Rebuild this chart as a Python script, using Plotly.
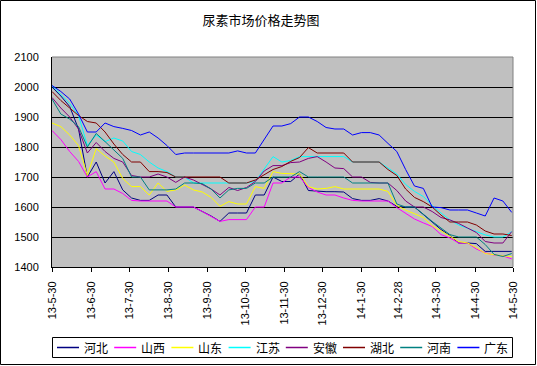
import pandas as pd
import plotly.graph_objects as go

dates = list(pd.date_range("2013-05-30", periods=53, freq="7D"))

names = ["河北", "山西", "山东", "江苏", "安徽", "湖北", "河南", "广东"]
colors = ["#000080", "#FF00FF", "#FFFF00", "#00FFFF", "#800080", "#800000", "#008080", "#0000FF"]

hebei = [2000, 1970, 1935, 1860, 1700, 1750, 1680, 1718, 1657, 1630,
         1622, 1622, 1640, 1640, 1600, 1600, 1600, 1585, 1570, 1552,
         1580, 1580, 1580, 1640, 1640, 1700, 1685, 1685, 1710, 1655,
         1652, 1651, 1651, 1650, 1628, 1622, 1622, 1628, 1620, 1602,
         1600, 1600, 1575, 1550, 1525, 1505, 1480, 1480, 1478, 1452,
         1452, 1452, 1452]
shanxi = [1855, 1825, 1785, 1752, 1700, 1718, 1660, 1660, 1645, 1622,
          1620, 1620, 1620, 1620, 1600, 1600, 1600, 1585, 1568, 1552,
          1558, 1558, 1558, 1600, 1600, 1680, 1680, 1700, 1700, 1665,
          1650, 1640, 1640, 1630, 1622, 1620, 1620, 1620, 1620, 1598,
          1580, 1560, 1547, 1535, 1508, 1497, 1480, 1480, 1460, 1447,
          1440, 1437, 1427]
shandong = [1880, 1868, 1840, 1805, 1705, 1795, 1770, 1750, 1695, 1668,
            1668, 1640, 1680, 1652, 1657, 1673, 1657, 1650, 1632, 1602,
            1618, 1610, 1610, 1668, 1662, 1718, 1712, 1710, 1710, 1668,
            1660, 1662, 1668, 1660, 1660, 1660, 1660, 1660, 1652, 1605,
            1590, 1578, 1565, 1538, 1520, 1502, 1485, 1480, 1465, 1445,
            1440, 1437, 1435]
jiangsu = [2005, 1975, 1945, 1905, 1805, 1840, 1818, 1830, 1820, 1785,
           1775, 1750, 1730, 1718, 1700, 1700, 1680, 1680, 1680, 1680,
           1680, 1680, 1680, 1685, 1725, 1768, 1750, 1755, 1768, 1768,
           1768, 1768, 1768, 1768, 1750, 1750, 1750, 1750, 1730, 1710,
           1675, 1652, 1635, 1605, 1580, 1557, 1540, 1530, 1518, 1507,
           1500, 1500, 1518]
anhui = [1965, 1930, 1900, 1860, 1780, 1815, 1785, 1762, 1750, 1705,
         1700, 1700, 1710, 1700, 1682, 1700, 1690, 1675, 1660, 1640,
         1665, 1655, 1665, 1685, 1720, 1738, 1738, 1748, 1750, 1762,
         1768, 1750, 1730, 1728, 1700, 1700, 1682, 1680, 1680, 1655,
         1620, 1600, 1600, 1585, 1565, 1557, 1545, 1530, 1515, 1485,
         1480, 1480, 1518]
hubei = [1985, 1955, 1930, 1905, 1885, 1880, 1850, 1810, 1775, 1750,
         1750, 1718, 1718, 1715, 1700, 1700, 1700, 1700, 1700, 1700,
         1680, 1680, 1680, 1690, 1708, 1725, 1735, 1752, 1765, 1798,
         1780, 1780, 1780, 1780, 1750, 1750, 1750, 1750, 1725, 1705,
         1660, 1632, 1618, 1600, 1573, 1550, 1550, 1550, 1540, 1520,
         1510, 1510, 1505]
henan = [1960, 1910, 1893, 1868, 1800, 1845, 1818, 1790, 1762, 1700,
         1700, 1657, 1657, 1657, 1660, 1680, 1680, 1678, 1660, 1630,
         1657, 1662, 1662, 1680, 1680, 1700, 1700, 1700, 1718, 1700,
         1700, 1700, 1700, 1700, 1680, 1680, 1680, 1680, 1680, 1610,
         1600, 1600, 1575, 1552, 1530, 1508, 1500, 1500, 1500, 1475,
         1442, 1435, 1445]
guangdong = [2005, 1985, 1960, 1910, 1850, 1850, 1880, 1868, 1862, 1855,
             1840, 1850, 1830, 1805, 1775, 1780, 1780, 1780, 1780, 1780,
             1780, 1787, 1780, 1780, 1825, 1870, 1870, 1878, 1900, 1900,
             1885, 1865, 1860, 1860, 1840, 1848, 1848, 1840, 1812, 1785,
             1725, 1670, 1662, 1600, 1598, 1590, 1590, 1590, 1580, 1570,
             1630, 1620, 1582]

series = [hebei, shanxi, shandong, jiangsu, anhui, hubei, henan, guangdong]

tick_dates = ["2013-05-30", "2013-06-30", "2013-07-30", "2013-08-30", "2013-09-30",
              "2013-10-30", "2013-11-30", "2013-12-30", "2014-01-30", "2014-02-28",
              "2014-03-30", "2014-04-30", "2014-05-30"]
tick_labels = ["13-5-30", "13-6-30", "13-7-30", "13-8-30", "13-9-30", "13-10-30",
               "13-11-30", "13-12-30", "14-1-30", "14-2-28", "14-3-30", "14-4-30", "14-5-30"]

fig = go.Figure()
for name, color, vals in zip(names, colors, series):
    fig.add_trace(go.Scatter(x=dates, y=vals, name=name, mode="lines",
                             line=dict(color=color, width=1), showlegend=False))

W, H = 537, 366
L, R, T, B = 52, 24, 57, 99
pw, ph = W - L - R, H - T - B


def px_x(px):
    return (px - L) / pw


def px_y(py):
    return (H - B - py) / ph


shapes = [
    dict(type="line", xref="paper", yref="paper", x0=0, x1=1, y0=1, y1=1,
         line=dict(color="#808080", width=1), layer="above"),
    dict(type="line", xref="paper", yref="paper", x0=1, x1=1, y0=0, y1=1,
         line=dict(color="#808080", width=1), layer="above"),
    # outer chart border
    dict(type="rect", xref="paper", yref="paper",
         x0=px_x(0.5), x1=px_x(W - 1.5), y0=px_y(H - 1.5), y1=px_y(0.5),
         line=dict(color="black", width=1), layer="above"),
    # legend box
    dict(type="rect", xref="paper", yref="paper",
         x0=px_x(52.5), x1=px_x(512.5), y0=px_y(357.5), y1=px_y(337.5),
         line=dict(color="black", width=1), fillcolor="white", layer="above"),
]
annotations = []
leg_y = 347.5
for k, (name, color) in enumerate(zip(names, colors)):
    x0 = 57 + 57.2 * k
    shapes.append(dict(type="line", xref="paper", yref="paper",
                       x0=px_x(x0), x1=px_x(x0 + 22), y0=px_y(leg_y), y1=px_y(leg_y),
                       line=dict(color=color, width=1.5), layer="above"))
    annotations.append(dict(text=name, xref="paper", yref="paper",
                            x=px_x(x0 + 25), y=px_y(leg_y), xanchor="left", yanchor="middle",
                            showarrow=False,
                            font=dict(family="Noto Sans CJK SC", size=12, color="black")))

fig.update_layout(
    width=W, height=H,
    margin=dict(l=L, r=R, t=T, b=B, autoexpand=False),
    paper_bgcolor="white",
    plot_bgcolor="#C0C0C0",
    font=dict(family="Liberation Sans, Arial, sans-serif", size=11, color="black"),
    title=dict(text="尿素市场价格走势图", x=261 / W, xanchor="center", xref="container",
               y=1 - 20 / H, yanchor="middle", yref="container",
               font=dict(family="Noto Sans CJK SC", size=13, color="black")),
    showlegend=False,
    xaxis=dict(type="date", range=["2013-05-30", "2014-05-30"],
               tickvals=tick_dates, ticktext=tick_labels, tickangle=-90,
               ticks="outside", ticklen=4, tickcolor="black",
               showgrid=False, showline=True, linecolor="black", linewidth=1,
               zeroline=False, ticklabelstandoff=5, automargin=False,
               tickfont=dict(family="Liberation Sans, Arial, sans-serif", size=11)),
    yaxis=dict(range=[1400, 2100], tickvals=[1400, 1500, 1600, 1700, 1800, 1900, 2000, 2100],
               showgrid=True, gridcolor="black", gridwidth=1,
               showline=True, linecolor="black", linewidth=1, zeroline=False,
               ticks="", ticklabelstandoff=10, automargin=False,
               tickfont=dict(family="Liberation Sans, Arial, sans-serif", size=11)),
    shapes=shapes,
    annotations=annotations,
)

fig.write_html("out.html", config={"displayModeBar": False},
               post_script="document.body.style.margin='0px';document.body.style.padding='0px';")
